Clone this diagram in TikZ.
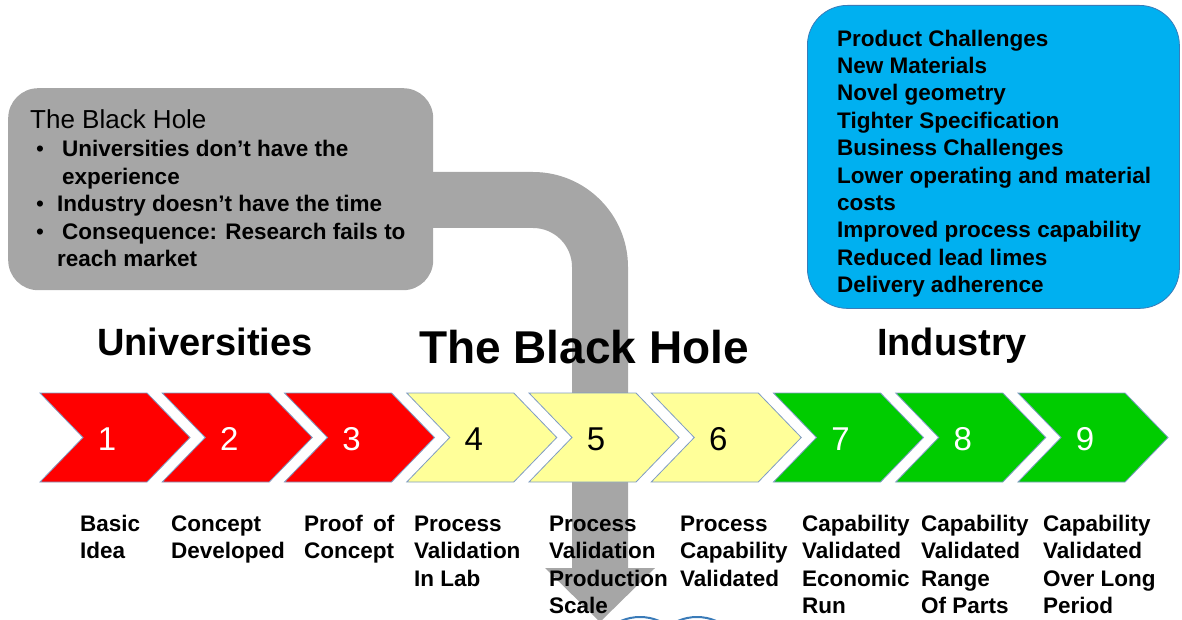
\documentclass[tikz,border=0pt]{standalone}
\usepackage{fontspec}
\setmainfont{Liberation Sans}
\usetikzlibrary{shapes.symbols,positioning}

\definecolor{holegray}{HTML}{A6A6A6}
\definecolor{skyblue}{HTML}{00B0F0}
\definecolor{skyline}{HTML}{3A7BB8}
\definecolor{chevline}{HTML}{7F9CC4}
\definecolor{unired}{HTML}{FF0000}
\definecolor{holeyellow}{HTML}{FFFF99}
\definecolor{indgreen}{HTML}{00CC00}

\tikzset{
	chev/.style={signal, signal from=west, signal to=east, signal pointer angle=92,
		minimum width=150pt, minimum height=89pt, inner sep=0pt, draw=chevline, line width=0.8pt},
	stepnum/.style={inner sep=0pt, font=\fontsize{33}{33}\selectfont},
	steplabel/.style={anchor=base west, inner sep=0pt, align=left,
		font=\fontsize{22.5}{27.5}\selectfont\bfseries},
	heading/.style={anchor=base, inner sep=0pt, font=\fontsize{38}{40}\selectfont\bfseries},
	listtext/.style={anchor=base west, inner sep=0pt, align=left,
		font=\fontsize{22.5}{27.4}\selectfont\bfseries},
}

\begin{document}
\begin{tikzpicture}[x=1pt,y=-1pt]
	\useasboundingbox (0,0) rectangle (1182,620);

	% circles cut off at the bottom
	\draw[skyline, line width=2pt, fill=white] (640,665) circle[radius=48];
	\draw[skyline, line width=2pt, fill=white] (697,665) circle[radius=48];

	% the pipe into the black hole
	\fill[holegray] (420,172) -- (533,172) arc[start angle=-90,end angle=0,radius=95]
		-- (628,568) -- (655,568) -- (600,622) -- (545,568) -- (572,568)
		-- (572,267) arc[start angle=0,end angle=-90,radius=39] -- (420,228) -- cycle;

	% boxes
	\node[fill=holegray, rounded corners=30pt, minimum width=425pt, minimum height=202pt,
		anchor=north west] (holebox) at (8,88) {};
	\node[fill=skyblue, draw=skyline, line width=0.8pt, rounded corners=40pt,
		minimum width=372pt, minimum height=303pt, anchor=north west] (challenges) at (807,5) {};

	% base of a list node = base of its last line
	\node[anchor=base west, inner sep=0pt, font=\fontsize{26}{28}\selectfont] (holetitle) at (30,129) {The Black Hole};
	\node[listtext] (holelist) at (30,266.6) {%
		\hspace*{6pt}{\mdseries •}\hspace*{18pt}Universities don’t have the\\
		\hspace*{32pt}experience\\
		\hspace*{6pt}{\mdseries •}\hspace*{13pt}Industry doesn’t have the time\\
		\hspace*{6pt}{\mdseries •}\hspace*{18pt}Consequence: Research fails to\\
		\hspace*{27pt}reach market};

	\node[listtext] (challist) at (837,292.6) {Product Challenges\\
		New Materials\\
		Novel geometry\\
		Tighter Specification\\
		Business Challenges\\
		Lower operating and material\\
		costs\\
		Improved process capability\\
		Reduced lead limes\\
		Delivery adherence};

	% headings
	\node[heading] (uni) at (205,355.5) {Universities};
	\node[heading, font=\fontsize{46}{48}\selectfont\bfseries] (hole) at (584,363.5) {The Black Hole};
	\node[heading] (ind) at (952,355.5) {Industry};

	% the nine steps
	\foreach \i/\fillc/\numc in {1/unired/white, 2/unired/white, 3/unired/white,
		4/holeyellow/black, 5/holeyellow/black, 6/holeyellow/black,
		7/indgreen/white, 8/indgreen/white, 9/indgreen/white} {
		\node[chev, fill=\fillc] (step\i) at ({115+122.25*(\i-1)},437.5) {};
		\node[stepnum, text=\numc] (num\i) at ([xshift=-8pt,yshift=-1.5pt]step\i.center) {\i};
	}

	\node[steplabel] (lab1) at (80,558.5) {Basic\\Idea};
	\node[steplabel] (lab2) at (171,558.5) {Concept\\Developed};
	\node[steplabel] (lab3) at (304,558.5) {Proof\hspace{4pt} of\\Concept};
	\node[steplabel] (lab4) at (414,586) {Process\\Validation\\In Lab};
	\node[steplabel] (lab5) at (549,613.5) {Process\\Validation\\Production\\Scale};
	\node[steplabel] (lab6) at (680,586) {Process\\Capability\\Validated};
	\node[steplabel] (lab7) at (802,613.5) {Capability\\Validated\\Economic\\Run};
	\node[steplabel] (lab8) at (921,613.5) {Capability\\Validated\\Range\\Of Parts};
	\node[steplabel] (lab9) at (1043,613.5) {Capability\\Validated\\Over Long\\Period};
\end{tikzpicture}
\end{document}
